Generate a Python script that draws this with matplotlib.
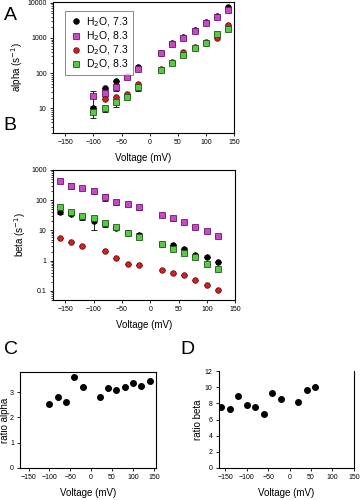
import numpy as np
import matplotlib
matplotlib.use('Agg')
import matplotlib.pyplot as plt
from matplotlib.lines import Line2D

# panel A - alpha rates (s-1)
v_a = [-100, -80, -60, -40, -20, 20, 40, 60, 80, 100, 120, 140]
alpha_h2o_73 = [10, 37, 59, 85, 150, 380, 700, 1050, 1650, 2900, 4300, 7700]
alpha_h2o_83 = [22, 27, 40, 80, 130, 370, 670, 1000, 1580, 2700, 4000, 6300]
alpha_d2o_73 = [None, 18, 21, 25, 49, 130, 210, 390, 540, 760, 1000, 2350]
alpha_d2o_83 = [8, 10, 15, 21, 40, 122, 200, 330, 520, 720, 1300, 1800]
alpha_err_h2o_83 = [10, 6, 8, 10, 15, 0, 0, 0, 0, 0, 0, 0]
alpha_err_d2o_83 = [2.5, 2, 4, 3, 8, 0, 0, 0, 0, 0, 0, 0]

# panel B - beta rates (s-1)
v_b = [-160, -140, -120, -100, -80, -60, -40, -20, 20, 40, 60, 80, 100, 120]
beta_h2o_73 = [42, 36, 27, 20, 16, 12, 8.5, 7, 3.5, 3.3, 2.5, 1.6, 1.3, 0.9]
beta_h2o_83 = [430, 300, 250, 195, 126, 85, 75, 58, 32, 25, 18.5, 13.5, 9.3, 6.8]
beta_d2o_73 = [5.8, 4.0, 3.0, None, 2.1, 1.26, 0.8, 0.74, 0.5, 0.4, 0.34, 0.23, 0.16, 0.11]
beta_d2o_83 = [58, 40, 29, 25, 17, 12.6, 8.5, 6.3, 3.7, 2.5, 1.85, 1.35, 0.8, 0.54]
beta_err_h2o_73 = [8, 4, 5, 10, 3, 2, 1.5, 1, 0, 0, 0, 0, 0, 0]
beta_err_h2o_83 = [0, 60, 0, 40, 35, 15, 12, 10, 3, 4, 0, 0, 0, 0]

# panel C - ratio alpha
v_c = [-100, -80, -60, -40, -20, 20, 40, 60, 80, 100, 120, 140]
ratio_alpha = [2.53, 2.8, 2.6, 3.6, 3.2, 2.8, 3.17, 3.1, 3.2, 3.37, 3.23, 3.45]

# panel D - ratio beta
v_d = [-160, -140, -120, -100, -80, -60, -40, -20, 20, 40, 60]
ratio_beta = [7.5, 7.25, 8.9, 7.8, 7.5, 6.7, 9.3, 8.5, 8.2, 9.7, 10.0]

labels = ['H$_2$O, 7.3', 'H$_2$O, 8.3', 'D$_2$O, 7.3', 'D$_2$O, 8.3']
styles = [
    dict(marker='o', mfc='black', mec='black'),
    dict(marker='s', mfc='#c848c8', mec='#6a1a6a'),
    dict(marker='o', mfc='#cc2222', mec='#701010'),
    dict(marker='s', mfc='#58c848', mec='#1e5a14'),
]

plt.rcParams['font.family'] = ['Liberation Sans', 'DejaVu Sans']

fig = plt.figure(figsize=(3.6, 5.0), dpi=100)


def clean(x, y, e=None):
    xs, ys, es = [], [], []
    for i in range(len(x)):
        if y[i] is None:
            continue
        xs.append(x[i])
        ys.append(y[i])
        es.append(0 if e is None else e[i])
    return np.array(xs), np.array(ys, dtype=float), np.array(es, dtype=float)


def style_axis(ax):
    ax.tick_params(labelsize=5, length=2.5, width=0.6, pad=2)
    ax.tick_params(which='minor', length=1.5, width=0.5)
    for s in ax.spines.values():
        s.set_linewidth(0.8)


# A
axA = fig.add_axes([0.147, 0.734, 0.503, 0.262])
series_a = [(alpha_h2o_73, None), (alpha_h2o_83, alpha_err_h2o_83),
            (alpha_d2o_73, None), (alpha_d2o_83, alpha_err_d2o_83)]
for (vals, err), st in zip(series_a, styles):
    x, y, e = clean(v_a, vals, err)
    axA.errorbar(x, y, yerr=e, ls='none', ecolor='black', elinewidth=0.6,
                 capsize=2, capthick=0.6, ms=4, mew=0.6, **st)
axA.set_yscale('log')
axA.set_ylim(2, 10500)
axA.set_xlim(-172, 150)
axA.set_xticks([-150, -100, -50, 0, 50, 100, 150])
axA.set_yticks([10, 100, 1000, 10000])
axA.set_yticklabels(['10', '100', '1000', '10000'])
axA.set_ylabel('alpha (s$^{-1}$)', fontsize=7, labelpad=2)
axA.set_xlabel('Voltage (mV)', fontsize=7, labelpad=5)
style_axis(axA)
handles = [Line2D([], [], ls='none', ms=4, mew=0.6, **st) for st in styles]
leg = axA.legend(handles, labels, loc='upper left', fontsize=7.5,
                 handletextpad=0.4, borderpad=0.4, labelspacing=0.05,
                 handlelength=1.2, fancybox=False, bbox_to_anchor=(0.04, 0.97))
leg.get_frame().set_edgecolor('#555555')
leg.get_frame().set_linewidth(0.6)

# B
axB = fig.add_axes([0.147, 0.40, 0.506, 0.26])
series_b = [(beta_h2o_73, beta_err_h2o_73), (beta_h2o_83, beta_err_h2o_83),
            (beta_d2o_73, None), (beta_d2o_83, None)]
for (vals, err), st in zip(series_b, styles):
    x, y, e = clean(v_b, vals, err)
    axB.errorbar(x, y, yerr=e, ls='none', ecolor='black', elinewidth=0.6,
                 capsize=2, capthick=0.6, ms=4, mew=0.6, **st)
axB.set_yscale('log')
axB.set_ylim(0.05, 1000)
axB.set_xlim(-172, 150)
axB.set_xticks([-150, -100, -50, 0, 50, 100, 150])
axB.set_yticks([0.1, 1, 10, 100, 1000])
axB.set_yticklabels(['0.1', '1', '10', '100', '1000'])
axB.set_ylabel('beta (s$^{-1}$)', fontsize=7, labelpad=2)
axB.set_xlabel('Voltage (mV)', fontsize=7, labelpad=5)
style_axis(axB)

# C
axC = fig.add_axes([0.056, 0.064, 0.377, 0.192])
axC.plot(v_c, ratio_alpha, 'o', color='black', ms=4)
axC.set_xlim(-170, 155)
axC.set_ylim(0, 3.8)
axC.set_xticks([-150, -100, -50, 0, 50, 100, 150])
axC.set_yticks([0, 1, 2, 3])
axC.set_ylabel('ratio alpha', fontsize=7, labelpad=0)
axC.set_xlabel('Voltage (mV)', fontsize=7, labelpad=5)
style_axis(axC)

# D
axD = fig.add_axes([0.608, 0.064, 0.375, 0.194])
axD.plot(v_d, ratio_beta, 'o', color='black', ms=4)
axD.set_xlim(-165, 150)
axD.set_ylim(0, 12)
axD.set_xticks([-150, -100, -50, 0, 50, 100, 150])
axD.set_yticks([0, 2, 4, 6, 8, 10, 12])
axD.set_ylabel('ratio beta', fontsize=7, labelpad=1)
axD.set_xlabel('Voltage (mV)', fontsize=7, labelpad=5)
style_axis(axD)
axD.spines['top'].set_visible(False)

# panel letters
fig.text(0.01, 0.97, 'A', fontsize=14, va='center')
fig.text(0.01, 0.75, 'B', fontsize=14, va='center')
fig.text(0.01, 0.302, 'C', fontsize=14, va='center')
fig.text(0.50, 0.302, 'D', fontsize=14, va='center')

fig.savefig('out.png', dpi=100)
